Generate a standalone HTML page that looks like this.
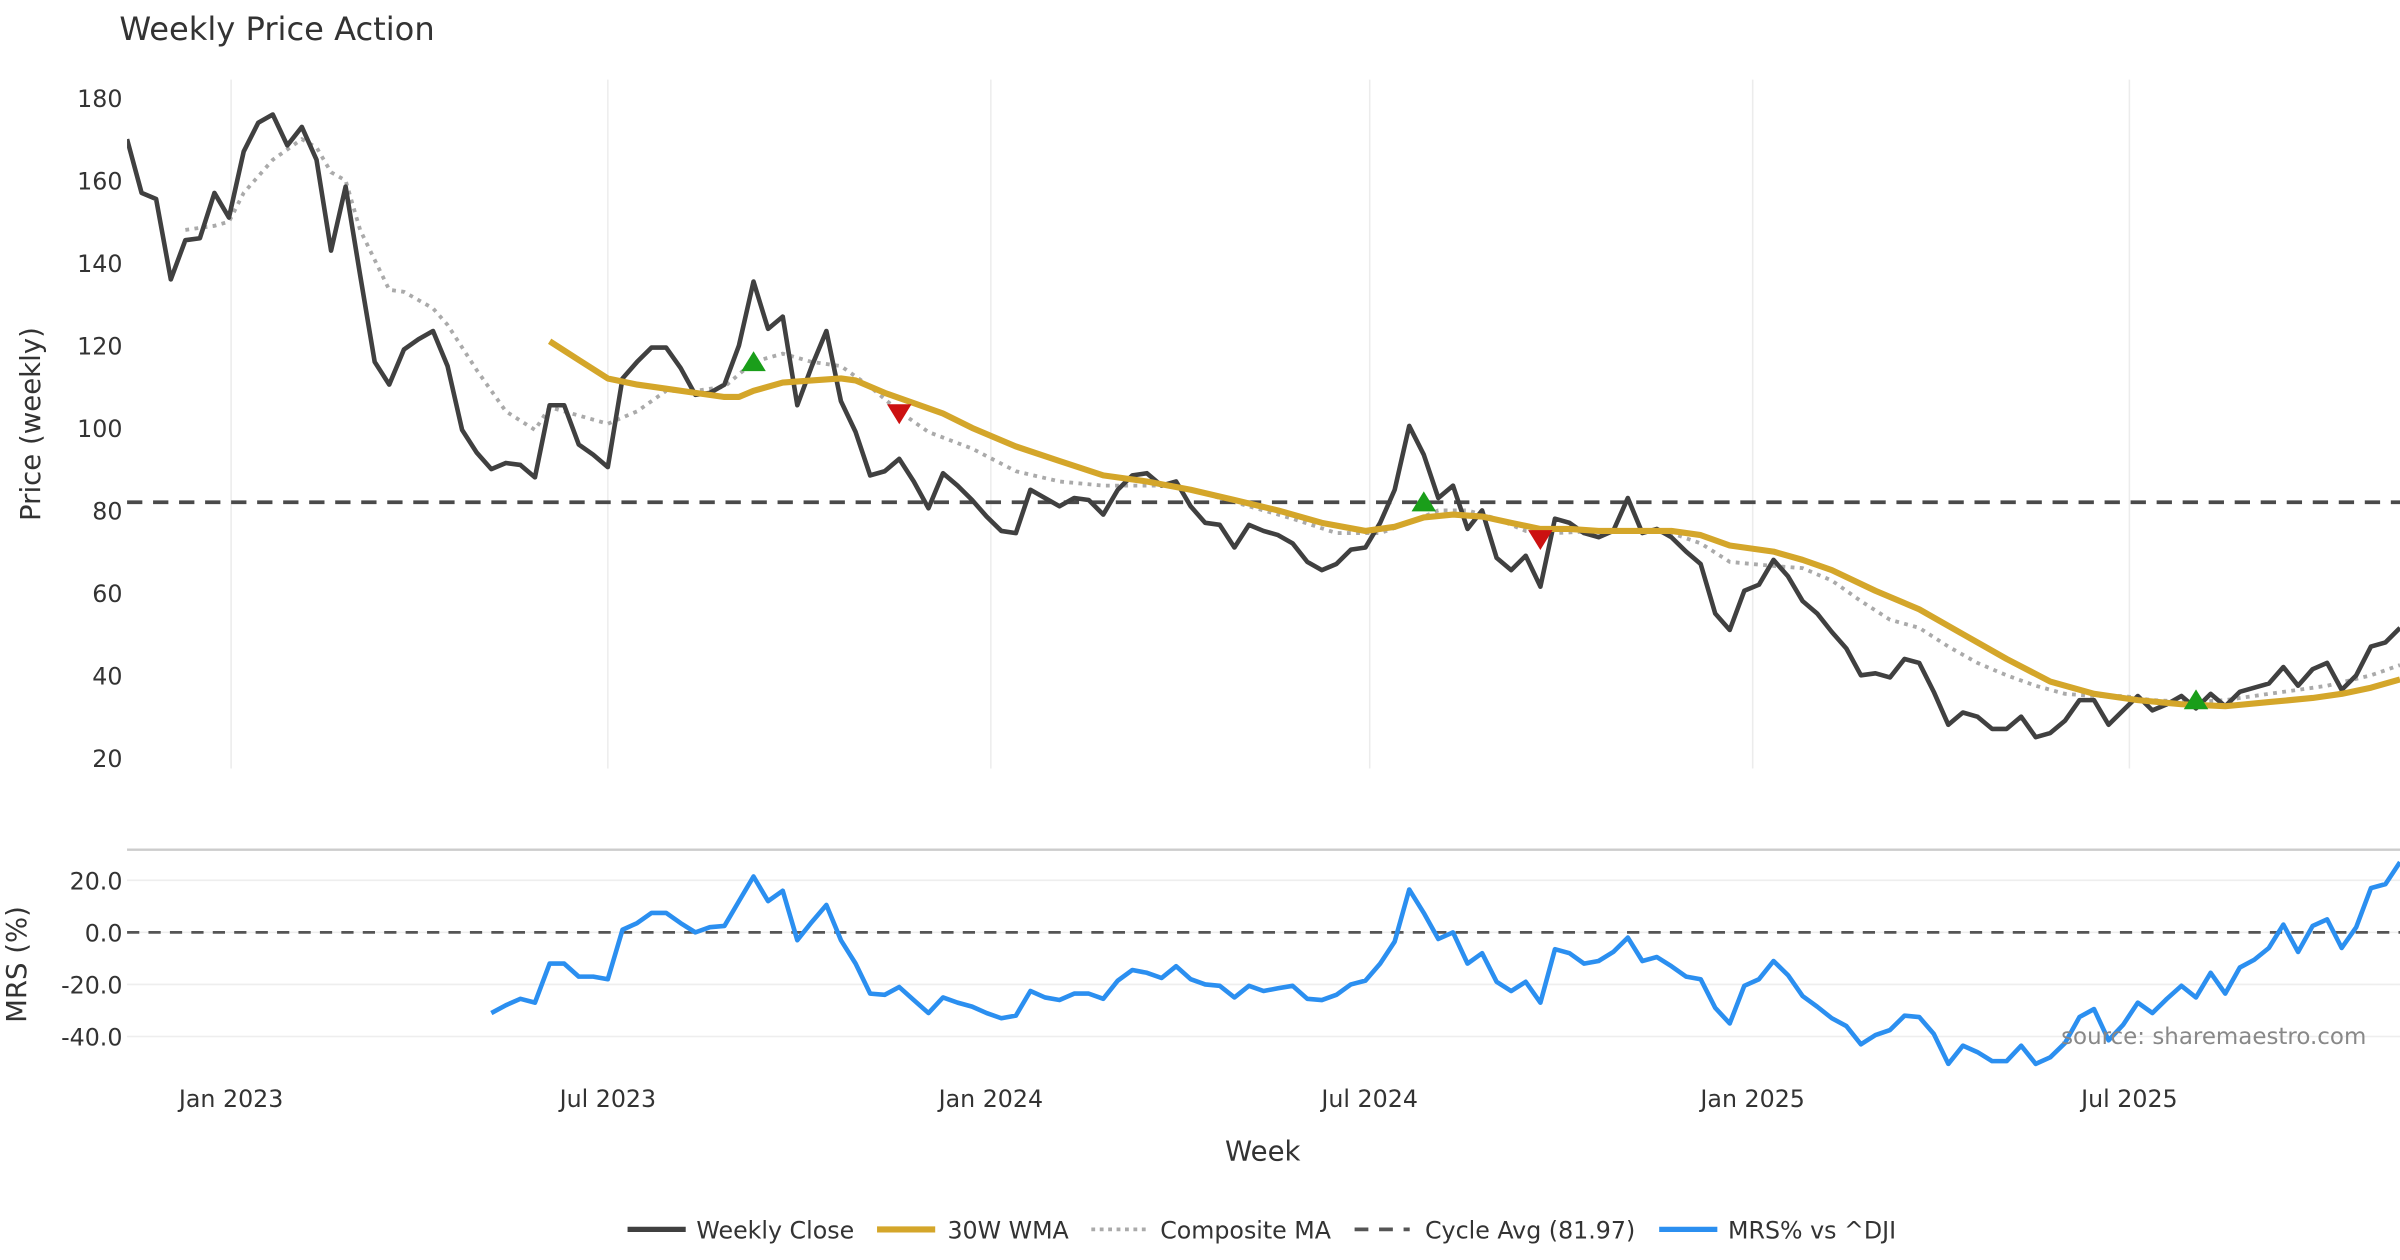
<!DOCTYPE html>
<html><head><meta charset="utf-8"><style>
html,body{margin:0;padding:0;background:#fff;}
svg{display:block;font-family:"DejaVu Sans","Liberation Sans",sans-serif;}
</style></head><body>
<svg id="chart" width="2400" height="1260" viewBox="0 0 1568 823" preserveAspectRatio="none" xmlns="http://www.w3.org/2000/svg">
<defs>
<clipPath id="clipTop"><rect x="83" y="40" width="1485" height="470"/></clipPath>
<clipPath id="clipBot"><rect x="83" y="556" width="1485" height="150"/></clipPath>
</defs>
<text x="78" y="26" font-size="21" fill="#333">Weekly Price Action</text>
<g id="grid"></g>
<g id="top" clip-path="url(#clipTop)"></g>
<line x1="83" y1="555" x2="1568" y2="555" stroke="#ccc" stroke-width="1.5"/>
<g id="bot" clip-path="url(#clipBot)"></g>
<g id="axes"></g>
<text transform="translate(26,277) rotate(-90)" text-anchor="middle" font-size="18" fill="#333">Price (weekly)</text>
<text transform="translate(17,630) rotate(-90)" text-anchor="middle" font-size="18" fill="#333">MRS (%)</text>
<text x="825" y="758" text-anchor="middle" font-size="18" fill="#333">Week</text>
<text x="1546" y="682" text-anchor="end" font-size="15" fill="#888">source: sharemaestro.com</text>
<g id="legend">
<line x1="410" y1="803" x2="448" y2="803" stroke="#404040" stroke-width="3.5"/>
<text x="455" y="809" font-size="15.5" fill="#333">Weekly Close</text>
<line x1="573" y1="803" x2="611" y2="803" stroke="#d4a62a" stroke-width="4"/>
<text x="619" y="809" font-size="15.5" fill="#333">30W WMA</text>
<line x1="713" y1="803" x2="749" y2="803" stroke="#aaa" stroke-width="2.5" stroke-dasharray="2.5,3"/>
<text x="758" y="809" font-size="15.5" fill="#333">Composite MA</text>
<line x1="885" y1="803" x2="921" y2="803" stroke="#555" stroke-width="2.5" stroke-dasharray="9,7"/>
<text x="931" y="809" font-size="15.5" fill="#333">Cycle Avg (81.97)</text>
<line x1="1084" y1="803" x2="1122" y2="803" stroke="#2b8ff0" stroke-width="3.5"/>
<text x="1129" y="809" font-size="15.5" fill="#333">MRS% vs ^DJI</text>
</g>
</svg>
<script>
const closeValues=[170,157,155.5,136,145.5,146,157,151,167,174,176,168.5,173,165,143,158.5,137,116,110.5,119,121.5,123.5,115,99.5,94,90,91.5,91,88,105.5,105.5,96,93.5,90.5,112,116,119.5,119.5,114.5,108,108.5,110.5,120,135.5,124,127,105.5,115,123.5,106.5,99,88.5,89.5,92.5,87,80.5,89,86,82.5,78.5,75,74.5,85,83,81,83,82.5,79,85,88.5,89,86,87,81,77,76.5,71,76.5,75,74,72,67.5,65.5,67,70.5,71,77,85,100.5,93.5,83,86,75.5,80,68.5,65.5,69,61.5,78,77,74.5,73.5,75,83,74.5,75.5,73.5,70,67,55,51,60.5,62,68,64,58,55,50.5,46.5,40,40.5,39.5,44,43,36,28,31,30,27,27,30,25,26,29,34,34,28,31.5,35,31.5,33,35,32,35.5,32.5,36,37,38,42,37.5,41.5,43,36.5,40,47,48,51.5];
const wmaWeeks=[29,31,33,35,37,39,41,42,43,45,47,49,50,52,54,56,58,61,64,67,70,73,76,79,82,85,87,89,91,93,95,97,99,101,104,106,108,110,113,115,117,120,123,126,129,132,135,138,141,144,147,150,152,154,156];
const wmaValues=[121,116.5,112,110.5,109.5,108.5,107.5,107.5,109,111,111.5,112,111.5,108.5,106,103.5,100,95.5,92,88.5,87,85,82.5,80,77,75,76,78.3,79,78.5,77,75.5,75.5,75,75,75,74,71.5,70,68,65.5,60.5,56,50,44,38.5,35.5,34,33,32.5,33.5,34.5,35.5,37,39];
const compWeeks=[4,6,7,8,10,12,13,14,15,16,18,19,21,22,24,26,28,29,31,33,35,37,39,41,43,45,47,49,51,53,55,58,61,64,67,70,72,74,77,80,83,86,88,90,92,94,96,98,101,104,106,108,110,113,115,117,119,121,123,125,127,129,131,133,135,137,139,142,144,147,149,151,154,156];
const compValues=[148,149,150,157,165,170,168,162,160,148,133.5,133,129,125,114,104,99.5,105,103,101,104,109,109,110,116,118,116,115,110,104,99,95,89.5,87,86,86,86,84,81,78,74.5,74.5,77,80,80,78,75,74.5,75,75,74.5,72,67.5,66.5,66,63,58,53.5,51.5,47,43,40,37.5,35.5,35,35,34,33.5,34,35.5,36.5,37.5,40,42.5];
const cycleAvg=81.97;
const signalWeeks=[43,53,89,97,142];
const signalValues=[116,103.5,82,73,34];
const signalTypes=["up","down","up","down","up"];
const mrsValues=[-31,-28,-25.5,-27,-12,-12,-17,-17,-18,1,3.5,7.5,7.5,3.5,0,2,2.5,12,21.5,12,16,-3,4,10.5,-3,-12,-23.5,-24,-21,-26,-31,-25,-27,-28.5,-31,-33,-32,-22.5,-25,-26,-23.5,-23.5,-25.5,-18.5,-14.5,-15.5,-17.5,-13,-18,-20,-20.5,-25,-20.5,-22.5,-21.5,-20.5,-25.5,-26,-24,-20,-18.5,-12,-3.5,16.5,7.5,-2.5,0,-12,-8,-19,-22.5,-19,-27,-6.5,-8,-12,-11,-7.5,-2,-11,-9.5,-13,-17,-18,-29,-35,-20.5,-18,-11,-16.5,-24.5,-28.5,-33,-36,-43,-39.5,-37.5,-32,-32.5,-39,-50.5,-43.5,-46,-49.5,-49.5,-43.5,-50.5,-48,-42.5,-32.5,-29.5,-41.5,-35.5,-27,-31,-25.5,-20.5,-25,-15.5,-23.5,-13.5,-10.5,-6,3,-7.5,2.5,5,-6,2,17,18.5,27];
const priceTicks=[20,40,60,80,100,120,140,160,180];
const mrsTicks=[-40,-20,0,20];
const dateTickLabels=["Jan 2023","Jul 2023","Jan 2024","Jul 2024","Jan 2025","Jul 2025"];
const dateTickDates=["2023-01-01","2023-07-01","2024-01-01","2024-07-01","2025-01-01","2025-07-01"];

const NS="http://www.w3.org/2000/svg";
const N=closeValues.length;
const X0=83,X1=1568,START=Date.UTC(2022,10,12),WEEK=7*864e5;
const step=(X1-X0)/(N-1);
const xw=i=>X0+i*step;
const xd=s=>{const p=s.split('-');return X0+(Date.UTC(+p[0],+p[1]-1,+p[2])-START)/WEEK*step;};
const yp=v=>64+(180-v)*(495-64)/160;
const ym=v=>609-v*(609-575)/20;
function mk(tag,attrs,parent){const e=document.createElementNS(NS,tag);for(const k in attrs)e.setAttribute(k,attrs[k]);parent.appendChild(e);return e;}
const grid=document.getElementById('grid'),top_=document.getElementById('top'),bot=document.getElementById('bot'),axes=document.getElementById('axes');
dateTickDates.forEach((d,i)=>{const x=xd(d);
 let g=mk('line',{x1:x,y1:52,x2:x,y2:502,stroke:'#ececec','stroke-width':1},grid);
 
 
 let t=mk('text',{x:x,y:723,'text-anchor':'middle','font-size':15.5,fill:'#333'},axes);
 t.textContent=dateTickLabels[i];
 
 
});
priceTicks.forEach(v=>{let t=mk('text',{x:80,y:yp(v)+6,'text-anchor':'end','font-size':15.5,fill:'#333'},axes);
 t.textContent=v;
 
 });
mrsTicks.forEach(v=>{let g=mk('line',{x1:X0,y1:ym(v),x2:X1,y2:ym(v),stroke:'#eeeeee','stroke-width':1},grid);
 
 
 let t=mk('text',{x:80,y:ym(v)+6,'text-anchor':'end','font-size':15.5,fill:'#333'},axes);
 t.textContent=v.toFixed(1);
 
 });
function path(pts){return pts.map((p,i)=>(i?'L':'M')+p[0].toFixed(1)+' '+p[1].toFixed(1)).join(' ');}
let c=mk('path',{d:path(compWeeks.map((w,i)=>[xw(w),yp(compValues[i])])),fill:'none',stroke:'#aaa','stroke-width':2.5,'stroke-dasharray':'2.5,3.5'},top_);


let ca=mk('line',{x1:X0,y1:yp(cycleAvg),x2:X1,y2:yp(cycleAvg),stroke:'#4a4a4a','stroke-width':2.5,'stroke-dasharray':'10,7'},top_);


let cl=mk('path',{d:path(closeValues.map((v,i)=>[xw(i),yp(v)])),fill:'none',stroke:'#404040','stroke-width':3,'stroke-linejoin':'round'},top_);


let wm=mk('path',{d:path(wmaWeeks.map((w,i)=>[xw(w),yp(wmaValues[i])])),fill:'none',stroke:'#d4a62a','stroke-width':4,'stroke-linejoin':'round'},top_);


signalWeeks.forEach((w,i)=>{const x=xw(w),y=yp(signalValues[i]);
 const d=signalTypes[i]==='up'?`M${x-8} ${y+6} L${x+8} ${y+6} L${x} ${y-7} Z`:`M${x-8} ${y-6} L${x+8} ${y-6} L${x} ${y+7} Z`;
 let m=mk('path',{d:d,fill:signalTypes[i]==='up'?'#1a9e1a':'#cc1111'},top_);
 
 });
let z=mk('line',{x1:X0,y1:ym(0),x2:X1,y2:ym(0),stroke:'#555','stroke-width':1.8,'stroke-dasharray':'8,6'},bot);


const mOff=N-mrsValues.length;
let ml=mk('path',{d:path(mrsValues.map((v,i)=>[xw(i+mOff),ym(v)])),fill:'none',stroke:'#2b8ff0','stroke-width':3,'stroke-linejoin':'round'},bot);


</script>
</body></html>
